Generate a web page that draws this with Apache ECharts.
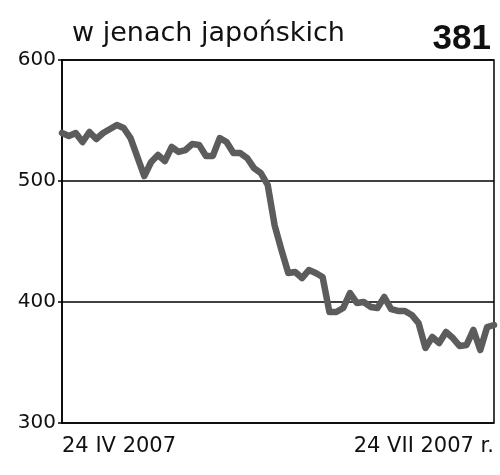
<!DOCTYPE html>
<html>
<head>
<meta charset="utf-8">
<script src="https://cdn.jsdelivr.net/npm/echarts@6/dist/echarts.min.js"></script>
<style>html,body{margin:0;padding:0;background:#fff}#c{width:500px;height:475px}</style>
</head>
<body>
<div id="c"></div>
<script>
var titleText = 'w jenach japońskich';
var lastValueText = '381';
var xTickLabels = ['24 IV 2007', '24 VII 2007 r.'];
var yTicks = [300, 400, 500, 600];
var values = [
  539.7, 537.2, 539.7, 532.2, 540.5, 534.7, 539.7, 543, 546.3, 543.8,
  535.5, 519.8, 504.1, 515.7, 521.5, 516.5, 528.1, 524, 525.6, 530.6,
  529.8, 520.7, 520.7, 535.5, 532.2, 523.1, 523.1, 519, 510.7, 506.6,
  496.7, 463.6, 443, 424, 424.8, 419.8, 426.4, 424, 420.7, 391.7,
  391.7, 395, 407.4, 399.2, 400, 395.9, 395, 404.1, 394.2, 392.6,
  392.6, 389.3, 382.6, 362, 371.1, 366.1, 375.2, 370.2, 363.6, 364.5,
  376.9, 360.3, 379.3, 381
];
var categories = values.map(function (v, i) { return String(i); });

var chart = echarts.init(document.getElementById('c'), null, {renderer: 'canvas'});
var last = values.length - 1;
chart.setOption({
  animation: false,
  backgroundColor: '#fff',
  grid: {left: 62, right: 6, top: 60, bottom: 52, show: true, borderColor: '#000', borderWidth: 1.5, backgroundColor: 'transparent'},
  title: [
    {text: titleText, left: 67, top: 15, textStyle: {fontFamily: 'DejaVu Sans', fontSize: 27, fontWeight: 'normal', color: '#111'}},
    {text: lastValueText, right: 4, top: 17, textStyle: {fontFamily: 'Liberation Sans', fontSize: 35, fontWeight: 'bold', color: '#111'}}
  ],
  xAxis: {
    type: 'category',
    data: categories,
    boundaryGap: false,
    axisLine: {show: false},
    axisTick: {show: false},
    splitLine: {show: false},
    axisLabel: {
      interval: function (i) { return i === 0 || i === last; },
      showMinLabel: true, showMaxLabel: true,
      alignMinLabel: 'left', alignMaxLabel: 'right',
      margin: 13,
      fontFamily: 'DejaVu Sans', fontSize: 21, color: '#111',
      formatter: function (v, i) { return i === 0 ? xTickLabels[0] : (i === last ? xTickLabels[1] : ''); }
    }
  },
  yAxis: {
    type: 'value',
    min: yTicks[0], max: yTicks[yTicks.length - 1], interval: 100,
    axisLine: {show: true, lineStyle: {color: '#000', width: 1.5}},
    axisTick: {show: true, inside: false, length: 4, lineStyle: {color: '#000', width: 1.5}},
    splitLine: {show: true, lineStyle: {color: '#000', width: 1.5}},
    axisLabel: {margin: 6, fontFamily: 'DejaVu Sans', fontSize: 20, color: '#111'}
  },
  series: [{
    type: 'line',
    data: values,
    showSymbol: false,
    symbol: 'none',
    lineStyle: {color: '#5c5c5c', width: 6.5, join: 'round', cap: 'round'}
  }]
});
</script>
</body>
</html>
